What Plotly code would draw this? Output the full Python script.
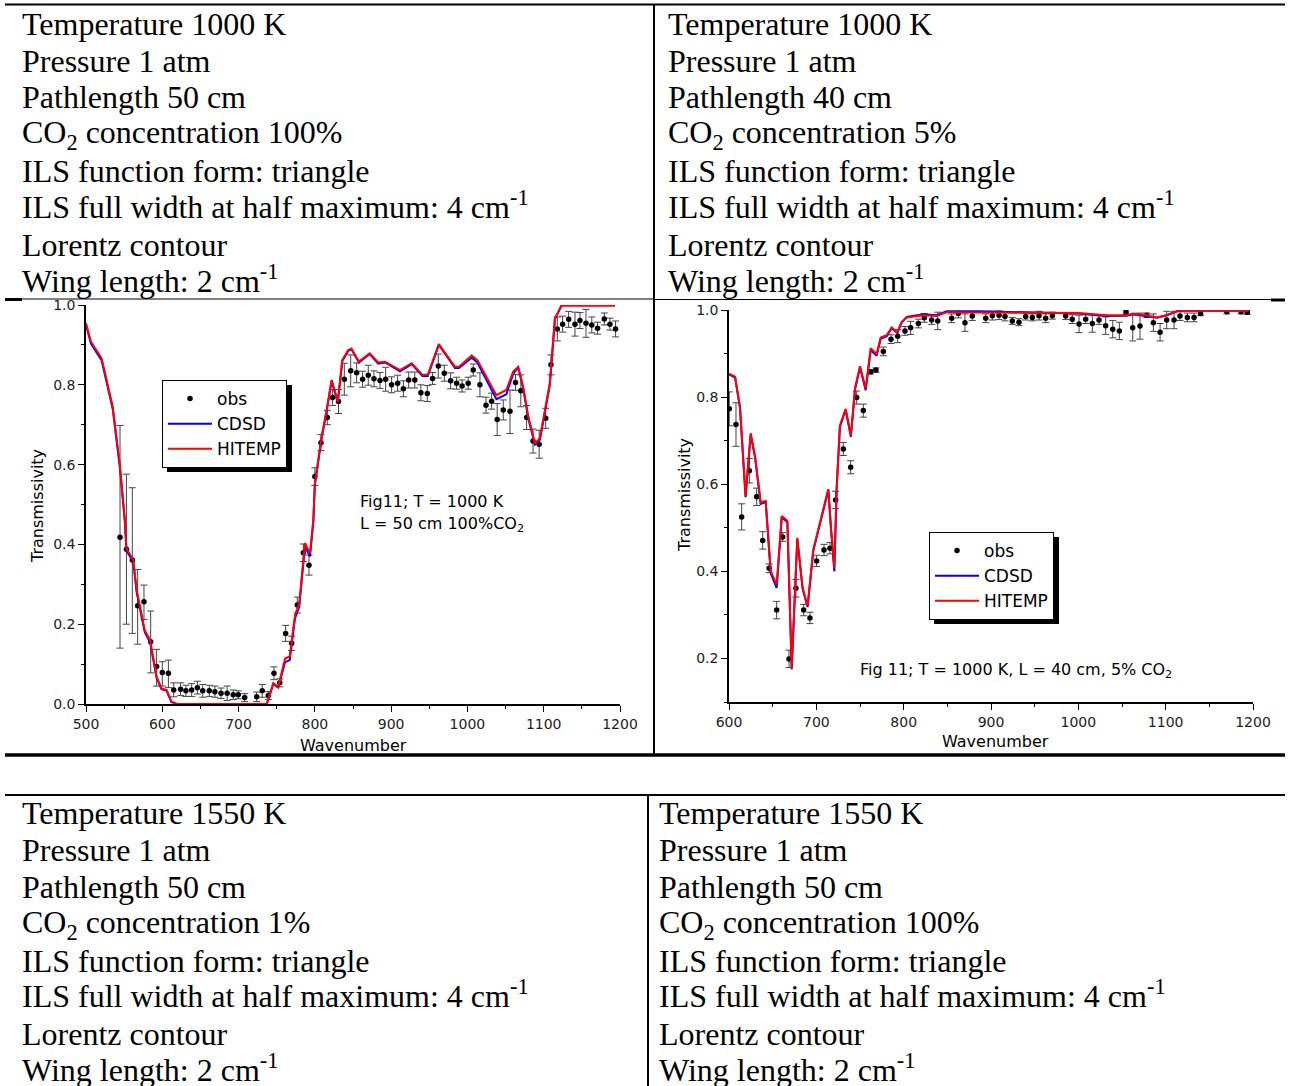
import plotly.graph_objects as go

W, H = 1291, 1086
def px(x): return x / W
def py(y): return 1 - y / H

# ---------------- data: left chart (T=1000 K, L=50 cm, 100% CO2) ----------------
left_hitemp_w = [500, 506.5, 520.5, 535, 544.6, 551, 553, 562, 566.4, 577, 584, 592.6, 599, 605.7, 612, 619,
                 737, 745.5, 752, 761, 767, 774, 779.6, 787, 793.6, 798, 800, 809, 815.5, 822, 830, 836,
                 843.8, 848, 857.8, 872, 883, 892, 911.6, 927, 941, 948, 962.5, 970, 983.7, 989, 1005.6,
                 1013, 1025, 1038, 1051, 1060, 1066.6, 1073, 1079.8, 1088.5, 1095, 1108, 1114.7, 1123.5, 1193.4]
left_hitemp_t = [0.954, 0.908, 0.866, 0.745, 0.595, 0.46, 0.39, 0.361, 0.286, 0.185, 0.16, 0.068, 0.039, 0.035, 0.006, 0.0,
                 0.0, 0.052, 0.043, 0.114, 0.119, 0.223, 0.252, 0.403, 0.378, 0.461, 0.553, 0.67, 0.737, 0.812, 0.758, 0.862,
                 0.887, 0.891, 0.858, 0.879, 0.856, 0.858, 0.837, 0.854, 0.825, 0.825, 0.902, 0.882, 0.845, 0.845, 0.873,
                 0.862, 0.82, 0.774, 0.787, 0.833, 0.845, 0.795, 0.72, 0.653, 0.666, 0.804, 0.967, 0.998, 0.998]
left_cdsd_w = [500, 506.5, 520.5, 535, 544.6, 551, 553, 562, 566.4, 577, 584, 592.6, 599, 605.7, 612, 619,
               737, 745.5, 752, 761, 767, 774, 779.6, 787, 793.6, 798, 800, 809, 815.5, 822, 830, 836,
               843.8, 848, 857.8, 872, 883, 892, 911.6, 927, 941, 948, 962.5, 970, 983.7, 989, 1005.6,
               1013, 1025, 1038, 1051, 1060, 1066.6, 1073, 1079.8, 1088.5, 1095, 1108, 1114.7, 1123.5, 1141]
left_cdsd_t = [0.95, 0.903, 0.861, 0.74, 0.59, 0.455, 0.385, 0.356, 0.28, 0.18, 0.155, 0.065, 0.037, 0.033, 0.005, 0.0,
               0.0, 0.05, 0.041, 0.105, 0.11, 0.215, 0.245, 0.395, 0.37, 0.455, 0.55, 0.668, 0.735, 0.81, 0.756, 0.86,
               0.885, 0.889, 0.856, 0.877, 0.853, 0.856, 0.834, 0.852, 0.822, 0.822, 0.9, 0.879, 0.842, 0.842, 0.868,
               0.856, 0.812, 0.764, 0.776, 0.828, 0.843, 0.792, 0.716, 0.65, 0.662, 0.8, 0.965, 1.0, 1.0]

left_obs_w = [544.6, 553, 560.7, 567.7, 576, 584.8, 592.6, 600, 608, 615, 624, 631, 638.5, 646, 653, 661.6, 669,
              677, 685, 693, 699.6, 708, 723.7, 731, 739, 746.4, 754, 761.7, 769.6, 777, 784.9, 792.3, 800,
              808, 816.3, 823.3, 831, 838.6, 847, 854.8, 862.6, 870, 877.5, 885.4, 892.8, 900.6, 908.5, 916,
              923, 931, 939, 947.4, 954.3, 961.8, 969.7, 978, 985.8, 993, 1001, 1007.6, 1016.4, 1024.3,
              1031.7, 1039, 1047, 1055.8, 1063, 1070, 1077.6, 1086, 1094, 1102.6, 1109.5, 1117.8, 1124.8,
              1132.7, 1141, 1147.5, 1155.4, 1163, 1170.6, 1179.4, 1186.8, 1194.2]
left_obs_t = [0.418, 0.388, 0.361, 0.246, 0.256, 0.156, 0.094, 0.079, 0.077, 0.035, 0.037, 0.033, 0.035, 0.041, 0.033, 0.033, 0.031,
              0.027, 0.027, 0.023, 0.023, 0.016, 0.018, 0.033, 0.021, 0.077, 0.053, 0.177, 0.152, 0.248, 0.379, 0.348, 0.57,
              0.655, 0.718, 0.768, 0.758, 0.814, 0.835, 0.83, 0.814, 0.824, 0.815, 0.811, 0.814, 0.8, 0.804, 0.79,
              0.812, 0.812, 0.78, 0.778, 0.816, 0.847, 0.829, 0.81, 0.804, 0.797, 0.804, 0.837, 0.8, 0.749,
              0.759, 0.713, 0.737, 0.734, 0.806, 0.785, 0.718, 0.659, 0.651, 0.716, 0.85, 0.94, 0.952,
              0.964, 0.952, 0.961, 0.954, 0.95, 0.942, 0.965, 0.952, 0.94]
left_obs_err_up = [0.28, 0.188, 0.181, 0.091, 0.042, 0.077, 0.043, 0.027, 0.033, 0.018, 0.016, 0.014, 0.016, 0.016, 0.016, 0.014, 0.014,
                   0.013, 0.018, 0.012, 0.01, 0.01, 0.012, 0.016, 0.01, 0.016, 0.01, 0.02, 0.018, 0.02, 0.022, 0.025, 0.022,
                   0.02, 0.018, 0.02, 0.03, 0.04, 0.04, 0.025, 0.02, 0.025, 0.02, 0.02, 0.03, 0.02, 0.02, 0.02,
                   0.02, 0.02, 0.02, 0.02, 0.015, 0.03, 0.02, 0.02, 0.015, 0.015, 0.015, 0.015, 0.03, 0.02,
                   0.02, 0.04, 0.025, 0.053, 0.02, 0.04, 0.03, 0.03, 0.035, 0.025, 0.025, 0.03, 0.02,
                   0.02, 0.03, 0.02, 0.035, 0.02, 0.015, 0.015, 0.015, 0.02]
left_obs_err_dn = [0.278, 0.188, 0.184, 0.096, 0.044, 0.078, 0.049, 0.034, 0.036, 0.017, 0.016, 0.014, 0.016, 0.016, 0.016, 0.014, 0.014,
                   0.013, 0.018, 0.012, 0.01, 0.01, 0.012, 0.016, 0.01, 0.016, 0.01, 0.02, 0.018, 0.02, 0.022, 0.025, 0.022,
                   0.02, 0.018, 0.02, 0.03, 0.04, 0.04, 0.025, 0.02, 0.025, 0.02, 0.02, 0.03, 0.02, 0.02, 0.02,
                   0.02, 0.02, 0.02, 0.02, 0.015, 0.03, 0.02, 0.02, 0.015, 0.015, 0.015, 0.015, 0.03, 0.02,
                   0.02, 0.04, 0.025, 0.056, 0.02, 0.04, 0.03, 0.03, 0.035, 0.025, 0.025, 0.03, 0.02,
                   0.02, 0.03, 0.02, 0.035, 0.02, 0.015, 0.015, 0.015, 0.02]

# ---------------- data: right chart (T=1000 K, L=40 cm, 5% CO2) ----------------
right_hitemp_w = [600, 607, 612.6, 619, 624.8, 629.8, 636.3, 642, 647.8, 654.6, 660.4, 666.8, 671.8, 678.2, 684.3,
                  690, 696.5, 713.7, 716.8, 720.6, 723.3, 727, 733.6, 739.6, 744.2, 750, 756.5, 762.2, 769, 773.7,
                  780.6, 786.3, 792.7, 797.8, 803.5, 822.5, 837.8, 849.3, 887.4, 950, 1000, 1032, 1055, 1063, 1078,
                  1090, 1101, 1114.5, 1195]
right_hitemp_t = [0.854, 0.847, 0.777, 0.573, 0.717, 0.665, 0.558, 0.562, 0.40, 0.37, 0.527, 0.516, 0.178, 0.477, 0.362,
                  0.32, 0.45, 0.589, 0.50, 0.408, 0.593, 0.735, 0.773, 0.712, 0.82, 0.871, 0.82, 0.912, 0.899, 0.937,
                  0.942, 0.96, 0.949, 0.973, 0.983, 0.988, 0.986, 0.995, 0.994, 0.993, 0.993, 0.988, 0.988, 0.992, 0.988,
                  0.983, 0.988, 0.998, 0.998]
right_cdsd_w = right_hitemp_w
right_cdsd_t = [0.852, 0.845, 0.775, 0.57, 0.714, 0.662, 0.555, 0.559, 0.395, 0.362, 0.524, 0.513, 0.175, 0.474, 0.36,
                0.318, 0.447, 0.586, 0.497, 0.40, 0.59, 0.732, 0.77, 0.709, 0.816, 0.868, 0.816, 0.908, 0.895, 0.934,
                0.94, 0.958, 0.947, 0.972, 0.984, 0.99, 0.988, 0.997, 0.997, 0.995, 0.992, 0.986, 0.987, 0.99, 0.985,
                0.982, 0.988, 0.998, 0.998]

right_obs_w = [600.3, 608, 614.5, 623.3, 631.7, 638.6, 646, 654.6, 661.4, 668.7, 676.6, 685.5, 692.7, 700.3, 708.8,
               715.6, 722, 730.9, 739.3, 746.2, 753.8, 762.2, 768.3, 776.7, 785.5, 793.2, 801.5, 808, 816.8, 823.6,
               832, 839, 855, 862.6, 870.2, 878.6, 894, 901.5, 909.2, 916, 924.4, 932, 939.7, 947.3, 955, 962.6,
               970.2, 985.5, 993, 1000.8, 1008.4, 1016, 1023.7, 1031.3, 1039.4, 1047, 1054.6, 1062.3, 1070.6,
               1078.3, 1085.9, 1093.6, 1101.2, 1109.6, 1116.4, 1124.8, 1132.5, 1140, 1170, 1186.3, 1193.5]
right_obs_t = [0.773, 0.737, 0.525, 0.631, 0.571, 0.471, 0.407, 0.311, 0.479, 0.199, 0.361, 0.311, 0.293, 0.424, 0.449,
               0.453, 0.564, 0.681, 0.639, 0.799, 0.769, 0.858, 0.862, 0.905, 0.933, 0.94, 0.952, 0.959, 0.969, 0.982,
               0.977, 0.975, 0.981, 0.992, 0.971, 0.986, 0.981, 0.987, 0.988, 0.985, 0.975, 0.972, 0.985, 0.983, 0.987, 0.981,
               0.987, 0.986, 0.979, 0.968, 0.979, 0.969, 0.977, 0.964, 0.956, 0.952, 0.995, 0.959, 0.963,
               0.988, 0.971, 0.949, 0.977, 0.977, 0.986, 0.983, 0.983, 0.992, 0.996, 0.996, 0.995]
right_obs_err = [0.039, 0.05, 0.03, 0.028, 0.02, 0.02, 0.01, 0.02, 0.01, 0.02, 0.02, 0.013, 0.013, 0.013, 0.013,
                 0.013, 0.02, 0.015, 0.015, 0.015, 0.015, 0.005, 0.005, 0.01, 0.01, 0.015, 0.01, 0.015, 0.01, 0.01,
                 0.01, 0.02, 0.01, 0.01, 0.02, 0.01, 0.01, 0.01, 0.01, 0.01, 0.008, 0.008, 0.008, 0.008, 0.01, 0.01,
                 0.008, 0.008, 0.01, 0.02, 0.01, 0.02, 0.01, 0.02, 0.02, 0.02, 0.005, 0.03, 0.03,
                 0.005, 0.02, 0.02, 0.02, 0.02, 0.01, 0.01, 0.01, 0.005, 0.005, 0.005, 0.005]

# ---------------- table texts ----------------
top_left_lines = ["Temperature 1000 K", "Pressure 1 atm", "Pathlength 50 cm", "CO<sub>2</sub> concentration 100%",
                  "ILS function form: triangle", "ILS full width at half maximum: 4 cm<sup>-1</sup>",
                  "Lorentz contour", "Wing length: 2 cm<sup>-1</sup>"]
top_right_lines = ["Temperature 1000 K", "Pressure 1 atm", "Pathlength 40 cm", "CO<sub>2</sub> concentration 5%",
                   "ILS function form: triangle", "ILS full width at half maximum: 4 cm<sup>-1</sup>",
                   "Lorentz contour", "Wing length: 2 cm<sup>-1</sup>"]
bot_left_lines = ["Temperature 1550 K", "Pressure 1 atm", "Pathlength 50 cm", "CO<sub>2</sub> concentration 1%",
                  "ILS function form: triangle", "ILS full width at half maximum: 4 cm<sup>-1</sup>",
                  "Lorentz contour", "Wing length: 2 cm<sup>-1</sup>"]
bot_right_lines = ["Temperature 1550 K", "Pressure 1 atm", "Pathlength 50 cm", "CO<sub>2</sub> concentration 100%",
                   "ILS function form: triangle", "ILS full width at half maximum: 4 cm<sup>-1</sup>",
                   "Lorentz contour", "Wing length: 2 cm<sup>-1</sup>"]
top_line_y = [24, 61, 97, 134, 171, 208, 245, 282]
bot_line_y = [813, 850, 887, 924, 961, 997, 1034, 1071]

SANS = "DejaVu Sans"
SERIF = "Liberation Serif"
RED = "#ff0000"
BLUE = "#0000ff"

fig = go.Figure()

err_style = dict(type="data", color="#444", thickness=1, width=3.5)

# left chart traces
fig.add_trace(go.Scatter(x=left_obs_w, y=left_obs_t, mode="markers", name="obs",
                         marker=dict(color="black", size=5.5),
                         error_y=dict(array=left_obs_err_up, arrayminus=left_obs_err_dn, symmetric=False, **err_style),
                         xaxis="x", yaxis="y", legend="legend"))
fig.add_trace(go.Scatter(x=left_cdsd_w, y=left_cdsd_t, mode="lines", name="CDSD",
                         line=dict(color=BLUE, width=2), xaxis="x", yaxis="y", legend="legend"))
fig.add_trace(go.Scatter(x=left_hitemp_w, y=left_hitemp_t, mode="lines", name="HITEMP",
                         line=dict(color=RED, width=2), xaxis="x", yaxis="y", legend="legend"))

# right chart traces
fig.add_trace(go.Scatter(x=right_obs_w, y=right_obs_t, mode="markers", name="obs",
                         marker=dict(color="black", size=5.5),
                         error_y=dict(array=right_obs_err, **err_style),
                         xaxis="x2", yaxis="y2", legend="legend2"))
fig.add_trace(go.Scatter(x=right_cdsd_w, y=right_cdsd_t, mode="lines", name="CDSD",
                         line=dict(color=BLUE, width=2), xaxis="x2", yaxis="y2", legend="legend2"))
fig.add_trace(go.Scatter(x=right_hitemp_w, y=right_hitemp_t, mode="lines", name="HITEMP",
                         line=dict(color=RED, width=2), xaxis="x2", yaxis="y2", legend="legend2"))

tickfont = dict(family=SANS, size=14, color="#222")
def xax(domain, rng, anchor):
    return dict(domain=domain, range=rng, anchor=anchor, dtick=100, showline=True, linecolor="black",
                linewidth=1.5, ticks="outside", ticklen=6, tickwidth=1.2, tickcolor="black",
                minor=dict(ticks="outside", ticklen=3, dtick=50, tickcolor="black", tickwidth=1),
                showgrid=False, zeroline=False, tickfont=tickfont, automargin=False, fixedrange=True)
def yax(domain, rng, anchor):
    return dict(domain=domain, range=rng, anchor=anchor, dtick=0.2, tick0=0, tickformat=".1f", showline=True,
                linecolor="black", linewidth=1.5, ticks="outside", ticklen=6, tickwidth=1.2, tickcolor="black",
                minor=dict(ticks="outside", ticklen=3, dtick=0.1, tickcolor="black", tickwidth=1),
                showgrid=False, zeroline=False, tickfont=tickfont, automargin=False, fixedrange=True)

legend_style = dict(bgcolor="white", bordercolor="black", borderwidth=1, itemwidth=44,
                    font=dict(family=SANS, size=17, color="black"),
                    xanchor="left", yanchor="top", itemclick=False, itemdoubleclick=False)

shapes = []
def hline(x0, x1, y, w):
    shapes.append(dict(type="line", xref="paper", yref="paper", x0=px(x0), x1=px(x1), y0=py(y), y1=py(y),
                       line=dict(color="black", width=w)))
def vline(x, y0, y1, w):
    shapes.append(dict(type="line", xref="paper", yref="paper", x0=px(x), x1=px(x), y0=py(y0), y1=py(y1),
                       line=dict(color="black", width=w)))
hline(5, 1285, 4.5, 2)
vline(654, 4, 756, 2)
hline(5, 653, 299, 1)
hline(5, 22, 299.5, 3)
hline(655, 1285, 299.5, 1)
hline(1271, 1285, 300, 3)
hline(5, 1285, 755, 3.5)
hline(5, 1285, 795, 2)
vline(648, 795, 1086, 2)

# legend shadows (offset copies of the legend boxes)
for (x0, y0, x1, y1) in [(167, 385, 292, 472), (934, 537, 1059, 624)]:
    shapes.append(dict(type="rect", xref="paper", yref="paper", x0=px(x0), x1=px(x1), y0=py(y1), y1=py(y0),
                       fillcolor="black", line=dict(width=0), layer="above"))

annotations = []
def text(x, y, s, font, anchor="left", angle=0):
    annotations.append(dict(x=px(x), y=py(y), xref="paper", yref="paper", text=s, showarrow=False,
                            xanchor=anchor, yanchor="middle", font=font, textangle=angle))

def table_y(s, y):
    if "<sup>" in s:
        return y - 3
    if "<sub>" in s:
        return y + 0.5
    return y

serif_font = dict(family=SERIF, size=32, color="black")
for s, y in zip(top_left_lines, top_line_y):
    text(19.5, table_y(s, y), s, serif_font)
for s, y in zip(top_right_lines, top_line_y):
    text(665.5, table_y(s, y), s, serif_font)
for s, y in zip(bot_left_lines, bot_line_y):
    text(19.5, table_y(s, y), s, serif_font)
for s, y in zip(bot_right_lines, bot_line_y):
    text(657.5, table_y(s, y), s, serif_font)

chart_font = dict(family=SANS, size=16, color="black")
text(358, 501, "Fig11; T = 1000 K", chart_font)
text(358, 525, "L = 50 cm 100%CO<sub>2</sub>", chart_font)
text(858, 670, "Fig 11; T = 1000 K, L = 40 cm, 5% CO<sub>2</sub>", chart_font)

title_font = dict(family=SANS, size=16, color="black")
text(353, 745, "Wavenumber", title_font, anchor="center")
text(37, 506, "Transmissivity", title_font, anchor="center", angle=-90)
text(995, 741, "Wavenumber", title_font, anchor="center")
text(684, 495, "Transmissivity", title_font, anchor="center", angle=-90)

fig.update_layout(
    width=W, height=H, margin=dict(l=0, r=0, t=0, b=0), autosize=False,
    paper_bgcolor="white", plot_bgcolor="white", showlegend=True,
    xaxis=xax([px(86), px(620)], [500, 1200], "y"),
    yaxis=yax([py(704), py(305)], [0, 1.0], "x"),
    xaxis2=xax([px(729), px(1253)], [600, 1200], "y2"),
    yaxis2=yax([py(702), py(310)], [0.1, 1.0], "x2"),
    legend=dict(x=px(162), y=py(380), **legend_style),
    legend2=dict(x=px(929), y=py(532), **legend_style),
    shapes=shapes, annotations=annotations,
)

fig.write_html("out.html")
